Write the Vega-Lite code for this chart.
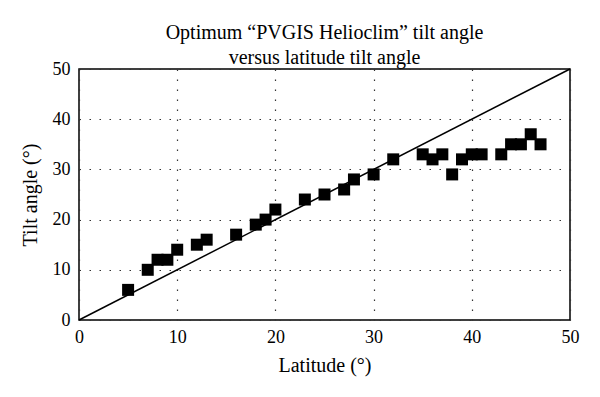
{
  "$schema": "https://vega.github.io/schema/vega-lite/v6.json",
  "autosize": "none",
  "width": 491,
  "height": 251,
  "padding": {"left": 79, "top": 69, "right": 30, "bottom": 77},
  "background": "white",
  "title": {
    "text": ["Optimum “PVGIS Helioclim” tilt angle", "versus latitude tilt angle"],
    "font": "Liberation Serif",
    "fontSize": 20,
    "fontWeight": "normal",
    "color": "#000000",
    "anchor": "middle",
    "lineHeight": 25,
    "offset": -8
  },
  "config": {
    "view": {"stroke": "#000000", "strokeWidth": 1.5},
    "axis": {
      "labelFont": "Liberation Serif",
      "labelFontSize": 18,
      "labelColor": "#000000",
      "labelFlush": false,
      "labelOverlap": false,
      "titleFont": "Liberation Serif",
      "titleFontSize": 20,
      "titleFontWeight": "normal",
      "titleColor": "#000000",
      "domain": false,
      "ticks": false,
      "gridColor": "#333333",
      "gridDash": [1.5, 8.5],
      "gridWidth": 1.2,
      "gridOpacity": 1
    }
  },
  "datasets": {
    "points": [
      {"lat": 5, "tilt": 6}, {"lat": 7, "tilt": 10}, {"lat": 8, "tilt": 12}, {"lat": 9, "tilt": 12},
      {"lat": 10, "tilt": 14}, {"lat": 12, "tilt": 15}, {"lat": 13, "tilt": 16}, {"lat": 16, "tilt": 17},
      {"lat": 18, "tilt": 19}, {"lat": 19, "tilt": 20}, {"lat": 20, "tilt": 22}, {"lat": 23, "tilt": 24},
      {"lat": 25, "tilt": 25}, {"lat": 27, "tilt": 26}, {"lat": 28, "tilt": 28}, {"lat": 30, "tilt": 29},
      {"lat": 32, "tilt": 32}, {"lat": 35, "tilt": 33}, {"lat": 36, "tilt": 32}, {"lat": 37, "tilt": 33},
      {"lat": 38, "tilt": 29}, {"lat": 39, "tilt": 32}, {"lat": 40, "tilt": 33}, {"lat": 41, "tilt": 33},
      {"lat": 43, "tilt": 33}, {"lat": 44, "tilt": 35}, {"lat": 45, "tilt": 35}, {"lat": 46, "tilt": 37},
      {"lat": 47, "tilt": 35}
    ],
    "diag": [{"lat": 0, "tilt": 0}, {"lat": 50, "tilt": 50}]
  },
  "layer": [
    {
      "data": {"name": "diag"},
      "mark": {"type": "line", "color": "#000000", "strokeWidth": 1.5},
      "encoding": {
        "x": {"field": "lat", "type": "quantitative", "scale": {"domain": [0, 50], "nice": false},
              "axis": {"title": "Latitude (°)", "values": [0, 10, 20, 30, 40, 50], "grid": true, "labelPadding": 8, "titlePadding": 9}},
        "y": {"field": "tilt", "type": "quantitative", "scale": {"domain": [0, 50], "nice": false},
              "axis": {"title": "Tilt angle (°)", "values": [0, 10, 20, 30, 40, 50], "grid": true, "labelPadding": 9, "titlePadding": 12}}
      }
    },
    {
      "data": {"name": "points"},
      "mark": {"type": "point", "shape": "square", "filled": true, "color": "#000000", "opacity": 1, "size": 144},
      "encoding": {
        "x": {"field": "lat", "type": "quantitative"},
        "y": {"field": "tilt", "type": "quantitative"}
      }
    }
  ]
}
